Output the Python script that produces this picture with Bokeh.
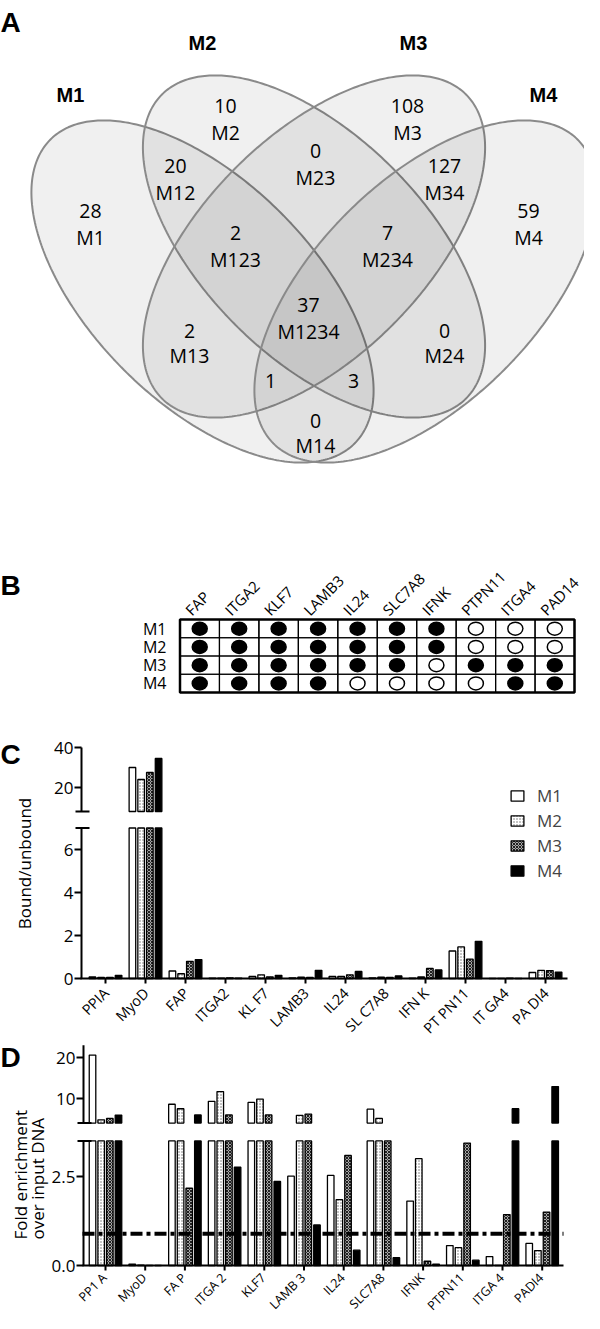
import numpy as np
from bokeh.plotting import figure
from bokeh.models import (Range1d, ColumnDataSource, Legend, LegendItem)
from bokeh.layouts import column
from bokeh.embed import file_html
from bokeh.resources import INLINE
from bokeh.core.properties import value

SANS = "Open Sans"
BOLD = "Liberation Sans"

# ---------------- data ----------------
series = ["M1", "M2", "M3", "M4"]

# Panel A : Venn counts
venn_set_names = ["M1", "M2", "M3", "M4"]
venn_region_names = ["M2", "M3", "M12", "M23", "M34", "M1", "M4", "M123",
                     "M234", "M1234", "M13", "M24", "M134", "M124", "M14"]
venn_region_counts = [10, 108, 20, 0, 127, 28, 59, 2, 7, 37, 2, 0, 1, 3, 0]
venn_region_named = [1, 1, 1, 1, 1, 1, 1, 1, 1, 1, 1, 1, 0, 0, 1]

# Panel B : presence table
table_genes = ["FAP", "ITGA2", "KLF7", "LAMB3", "IL24", "SLC7A8", "IFNK",
               "PTPN11", "ITGA4", "PAD14"]
table_rows = ["M1", "M2", "M3", "M4"]
table_M1 = [1, 1, 1, 1, 1, 1, 1, 0, 0, 0]
table_M2 = [1, 1, 1, 1, 1, 1, 1, 0, 0, 0]
table_M3 = [1, 1, 1, 1, 1, 1, 0, 1, 1, 1]
table_M4 = [1, 1, 1, 1, 0, 0, 0, 0, 1, 1]

# Panel C : bound/unbound
labels_c = ["PPIA", "MyoD", "FAP", "ITGA2", "KL F7", "LAMB3", "IL24",
            "SL C7A8", "IFN K", "PT PN11", "IT GA4", "PA DI4"]
c_M1 = [0.07, 30.0, 0.35, 0.02, 0.10, 0.03, 0.10, 0.03, 0.02, 1.28, 0.01, 0.28]
c_M2 = [0.05, 24.0, 0.22, 0.02, 0.17, 0.06, 0.10, 0.06, 0.07, 1.47, 0.01, 0.38]
c_M3 = [0.05, 27.5, 0.80, 0.03, 0.08, 0.05, 0.17, 0.05, 0.47, 0.90, 0.02, 0.37]
c_M4 = [0.15, 34.5, 0.88, 0.02, 0.15, 0.38, 0.33, 0.12, 0.40, 1.73, 0.01, 0.30]
c_lo_ticks = [0, 2, 4, 6]
c_hi_ticks = [20, 40]

# Panel D : fold enrichment
labels_d = ["PP1 A", "MyoD", "FA P", "ITGA 2", "KLF7", "LAMB 3", "IL24",
            "SLC7A8", "IFNK", "PTPN11", "ITGA 4", "PADI4"]
d_M1 = [20.6, 0.04, 8.6, 9.3, 9.05, 2.51, 2.53, 7.4, 1.81, 0.56, 0.25, 0.62]
d_M2 = [4.8, 0.01, 7.5, 11.7, 9.85, 5.9, 1.85, 5.15, 3.0, 0.50, 0.0, 0.42]
d_M3 = [5.15, 0.0, 2.17, 6.0, 6.0, 6.2, 3.09, 3.7, 0.12, 3.44, 1.43, 1.5]
d_M4 = [5.95, 0.0, 6.0, 2.76, 2.36, 1.14, 0.43, 0.22, 0.04, 0.15, 7.5, 12.9]
d_threshold = 0.89
d_lo_ticks = [0, 2.5]
d_lo_tick_labels = ["0.0", "2.5"]
d_hi_ticks = [10, 20]

# ---------------- layout / style constants ----------------
W = 584
PX0, PX1 = 8, 592   # page x extent of every figure
VENN_CENTERS = [(210, 299), (321.5, 254), (321.5, 254), (433, 299)]
VENN_ANGLES = [45, 45, -45, -45]
VENN_A, VENN_B = 215, 111
VENN_SET_POS = [(78, 102), (210, 50), (421, 50), (551, 102)]
VENN_REGION_POS = [(233, 113, 140), (415, 113, 140), (183, 173, 200),
                   (323, 158, 185), (452, 173, 200), (98, 218, 245),
                   (536, 218, 245), (243, 240, 267), (395, 240, 267),
                   (316, 312, 339), (197, 338, 363), (452, 338, 363),
                   (278, 388, 0), (361, 388, 0), (323, 428, 453)]

BAR_W = 0.165
BAR_PITCH = 0.218
OFFSETS = [(k - 1.5) * BAR_PITCH for k in range(4)]
BAR_STYLES = {
    "M1": dict(fill_color="white"),
    "M2": dict(fill_color="white", hatch_pattern="dot", hatch_color="#6a6a6a",
               hatch_scale=3, hatch_weight=1),
    "M3": dict(fill_color="#a8a8a8", hatch_pattern="diagonal_cross",
               hatch_color="#202020", hatch_scale=3, hatch_weight=1),
    "M4": dict(fill_color="black"),
}


def bare_fig(top, bottom, x_range, y_range):
    p = figure(width=W, height=bottom - top, x_range=x_range, y_range=y_range,
               output_backend="svg", toolbar_location=None, title=None,
               x_axis_location=None, y_axis_location=None, min_border=0)
    p.grid.visible = False
    p.outline_line_color = None
    return p


def txt(p, x, y, text, size, font=SANS, bold=False, align="left",
        baseline="middle", angle=0.0, **kw):
    p.text(x=x, y=y, text=text, text_font=value(font),
           text_font_style="bold" if bold else "normal", text_font_size=size,
           text_align=align, text_baseline=baseline, angle=angle,
           text_color="black", **kw)


# ================= Panel A =================
pa = bare_fig(8, 560, Range1d(PX0, PX1), Range1d(560, 8))
xs, ys = [], []
t = np.linspace(0, 2 * np.pi, 361)
for (cx, cy), ang in zip(VENN_CENTERS, VENN_ANGLES):
    th = np.radians(ang)
    xs.append(list(cx + VENN_A * np.cos(t) * np.cos(th) - VENN_B * np.sin(t) * np.sin(th)))
    ys.append(list(cy + VENN_A * np.cos(t) * np.sin(th) + VENN_B * np.sin(t) * np.cos(th)))
pa.patches(xs, ys, fill_color="black", fill_alpha=0.06,
           line_color="#8a8a8a", line_width=2)
txt(pa, [q[0] for q in VENN_SET_POS], [q[1] for q in VENN_SET_POS],
    venn_set_names, "20px", font=BOLD, bold=True, align="center")
txt(pa, [q[0] for q in VENN_REGION_POS], [q[1] for q in VENN_REGION_POS],
    [str(c) for c in venn_region_counts], "19.5px", align="center")
named = [i for i, f in enumerate(venn_region_named) if f]
txt(pa, [VENN_REGION_POS[i][0] for i in named], [VENN_REGION_POS[i][2] for i in named],
    [venn_region_names[i] for i in named], "19.5px", align="center")
txt(pa, [8], [30], ["A"], "28px", font=BOLD, bold=True, baseline="alphabetic")

# ================= Panel B =================
pb = bare_fig(560, 735, Range1d(PX0, PX1), Range1d(735, 560))
TX0, TX1, TY0, TY1 = 187.5, 582, 627, 700
cw = (TX1 - TX0) / len(table_genes)
rh = (TY1 - TY0) / len(table_rows)
cx_list, cy_list, fills = [], [], []
for r, vals in enumerate([table_M1, table_M2, table_M3, table_M4]):
    for c, v in enumerate(vals):
        cx_list.append(TX0 + (c + 0.5) * cw)
        cy_list.append(TY0 + (r + 0.5) * rh)
        fills.append("black" if v else "white")
pb.rect(x=cx_list, y=cy_list, width=cw, height=rh, fill_color=None,
        line_color="black", line_width=1.2)
pb.rect(x=[(TX0 + TX1) / 2], y=[(TY0 + TY1) / 2], width=TX1 - TX0,
        height=TY1 - TY0, fill_color=None, line_color="black", line_width=2.5)
pb.ellipse(x=cx_list, y=cy_list, width=15, height=13, fill_color=fills,
           line_color="black", line_width=1.5)
txt(pb, [TX0 + (c + 0.5) * cw - 12 for c in range(len(table_genes))],
    [620] * len(table_genes), table_genes, "15px", baseline="alphabetic",
    angle=np.pi / 4)
txt(pb, [174] * 4, [TY0 + (r + 0.5) * rh for r in range(4)], table_rows, "16px",
    align="right")
txt(pb, [8], [593], ["B"], "28px", font=BOLD, bold=True, baseline="alphabetic")


# ================= bar panels =================
def bar_panel(top, bottom, vals, tick_labels, cap, floor, hi_top,
              x_first_px, px_per_cat, axis_x, axis_right,
              lo_zero_px, lo_ppu, hi_ref, hi_ref_px, hi_ppu,
              lo_ticks, lo_tick_labels, hi_ticks, label_dx, label_dy, label_size):
    x_rng = Range1d((PX0 - x_first_px) / px_per_cat, (PX1 - x_first_px) / px_per_cat)
    lo_rng = Range1d(-(bottom - lo_zero_px) / lo_ppu, (lo_zero_px - top) / lo_ppu)
    p = bare_fig(top, bottom, x_rng, lo_rng)
    p.extra_y_ranges = {
        "high": Range1d(hi_ref - (bottom - hi_ref_px) / hi_ppu,
                        hi_ref + (hi_ref_px - top) / hi_ppu),
        "py": Range1d(bottom, top)}
    p.extra_x_ranges = {"px": Range1d(PX0, PX1)}

    # bars (lower segment up to cap, upper segment from floor)
    lower = []
    for name, vv, off in zip(series, vals, OFFSETS):
        st = BAR_STYLES[name]
        xx = [i + off for i in range(len(vv))]
        src = ColumnDataSource(dict(x=xx, top=[min(v, cap) for v in vv]))
        r = p.vbar(x="x", top="top", bottom=0, width=BAR_W, source=src,
                   line_color="black", line_width=1.3, **st)
        lower.append(r)
        idx = [i for i, v in enumerate(vv) if v > floor]
        if idx:
            src2 = ColumnDataSource(dict(x=[xx[i] for i in idx],
                                         top=[vv[i] for i in idx]))
            p.vbar(x="x", top="top", bottom=floor, width=BAR_W, source=src2,
                   y_range_name="high", line_color="black", line_width=1.3, **st)

    # x axis: line, ticks, rotated category labels
    n = len(tick_labels)
    p.segment(x0=[axis_x - 1], y0=[0], x1=[axis_right], y1=[0], x_range_name="px",
              line_color="black", line_width=2)
    p.segment(x0=list(range(n)), y0=[0] * n, x1=list(range(n)),
              y1=[-5.0 / lo_ppu] * n, line_color="black", line_width=2)
    txt(p, [i + label_dx / px_per_cat for i in range(n)], [-label_dy / lo_ppu] * n,
        tick_labels, label_size, align="right", angle=np.pi / 4)

    # broken y axis
    p.segment(x0=[axis_x], y0=[0], x1=[axis_x], y1=[cap], x_range_name="px",
              line_color="black", line_width=2)
    p.segment(x0=[axis_x], y0=[floor], x1=[axis_x], y1=[hi_top], x_range_name="px",
              y_range_name="high", line_color="black", line_width=2)
    p.segment(x0=[axis_x - 7] * len(lo_ticks), y0=lo_ticks,
              x1=[axis_x] * len(lo_ticks), y1=lo_ticks, x_range_name="px",
              line_color="black", line_width=2)
    p.segment(x0=[axis_x - 7] * len(hi_ticks), y0=hi_ticks,
              x1=[axis_x] * len(hi_ticks), y1=hi_ticks, x_range_name="px",
              y_range_name="high", line_color="black", line_width=2)
    p.segment(x0=[axis_x - 6], y0=[cap], x1=[axis_x + 8], y1=[cap],
              x_range_name="px", line_color="black", line_width=2)
    p.segment(x0=[axis_x - 6], y0=[floor], x1=[axis_x + 8], y1=[floor],
              x_range_name="px", y_range_name="high", line_color="black",
              line_width=2)
    txt(p, [axis_x - 8] * len(lo_ticks), lo_ticks, lo_tick_labels, "17px",
        align="right", x_range_name="px")
    txt(p, [axis_x - 8] * len(hi_ticks), hi_ticks, [str(v) for v in hi_ticks],
        "17px", align="right", x_range_name="px", y_range_name="high")
    return p, lower


# ---- Panel C ----
C_TOP, C_BOT = 735, 1044
pc, c_lower = bar_panel(
    C_TOP, C_BOT, [c_M1, c_M2, c_M3, c_M4], labels_c, 7, 8, 40,
    113, 40.0, 89, 575, 986, 21.5, 40, 755, 2.0,
    c_lo_ticks, [str(v) for v in c_lo_ticks], c_hi_ticks, 0.5, 12, "14.5px")
txt(pc, [32], [871], ["Bound/unbound"], "17px", align="center", angle=np.pi / 2,
    x_range_name="px", y_range_name="py")
txt(pc, [8], [762], ["C"], "28px", font=BOLD, bold=True, baseline="alphabetic",
    x_range_name="px", y_range_name="py")
LEG_LEFT, LEG_TOP, LEG_ITEM_H, LEG_SPACING = 517, 788, 24, 2
leg_h = 4 * LEG_ITEM_H + 3 * LEG_SPACING
legend = Legend(items=[LegendItem(label=n, renderers=[r]) for n, r in zip(series, c_lower)],
                location=(LEG_LEFT - PX0, C_BOT - (LEG_TOP + leg_h)),
                orientation="vertical", glyph_width=16, glyph_height=13,
                label_standoff=12, spacing=LEG_SPACING, padding=0, margin=0,
                label_height=20, border_line_alpha=0, background_fill_alpha=0,
                label_text_font=SANS, label_text_font_size="17px")
pc.add_layout(legend)

# ---- Panel D ----
D_TOP, D_BOT = 1044, 1321
pdd, _ = bar_panel(
    D_TOP, D_BOT, [d_M1, d_M2, d_M3, d_M4], labels_d, 3.5, 4, 23,
    113, 39.7, 91, 571, 1273, 35.6, 20, 1065, 4.1,
    d_lo_ticks, d_lo_tick_labels, d_hi_ticks, -1.0, 10, "12.5px")
pdd.segment(x0=[90], y0=[d_threshold], x1=[571], y1=[d_threshold],
            x_range_name="px", line_color="black", line_width=4,
            line_dash="12 4 4 4")
txt(pdd, [28], [1247], ["Fold enrichment"], "17px", angle=np.pi / 2,
    x_range_name="px", y_range_name="py")
txt(pdd, [45], [1247], ["over input DNA"], "17px", angle=np.pi / 2,
    x_range_name="px", y_range_name="py")
txt(pdd, [8], [1065], ["D"], "28px", font=BOLD, bold=True, baseline="alphabetic",
    x_range_name="px", y_range_name="py")

layout = column(pa, pb, pc, pdd, spacing=0)
open("out.html", "w").write(file_html(layout, INLINE))
